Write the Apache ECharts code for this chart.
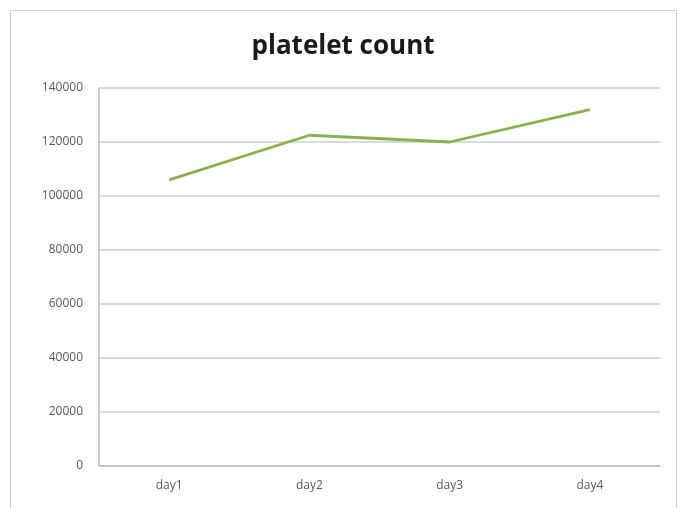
<!DOCTYPE html>
<html>
<head>
<meta charset="utf-8">
<script src="https://cdn.jsdelivr.net/npm/echarts@6/dist/echarts.min.js"></script>
<style>
  html, body { margin: 0; padding: 0; background: #fff; }
  #frame { position: absolute; left: 10px; top: 10px; width: 667px; height: 510px; border: 1px solid #d0d0d0; box-sizing: border-box; }
  #chart { position: absolute; left: 0; top: 0; width: 686px; height: 508px; }
</style>
</head>
<body>
<div id="frame"></div>
<div id="chart"></div>
<script>
// Platelet count over four days
const days = ['day1', 'day2', 'day3', 'day4'];
const plateletCount = [106000, 122500, 120000, 132000];
const yTicks = { min: 0, max: 140000, step: 20000 };

const chart = echarts.init(document.getElementById('chart'));
chart.setOption({
  animation: false,
  title: {
    text: 'platelet count',
    left: 'center',
    top: 29,
    textStyle: { fontFamily: 'Open Sans', fontWeight: 'bold', fontSize: 26, color: '#1a1a1a' }
  },
  grid: { left: 99, right: 26, top: 88, bottom: 42 },
  xAxis: {
    type: 'category',
    data: days,
    boundaryGap: true,
    axisLine: { lineStyle: { color: '#bfbfbf', width: 1.5 } },
    axisTick: { show: false },
    axisLabel: { color: '#595959', fontSize: 12, fontFamily: 'Open Sans', margin: 14 }
  },
  yAxis: {
    type: 'value',
    min: yTicks.min,
    max: yTicks.max,
    interval: yTicks.step,
    axisLine: { show: true, lineStyle: { color: '#bfbfbf', width: 1.5 } },
    axisTick: { show: false },
    axisLabel: { color: '#595959', fontSize: 12, fontFamily: 'Open Sans', margin: 16, formatter: v => String(v) },
    splitLine: { lineStyle: { color: '#cfcfcf', width: 1.5 } }
  },
  series: [{
    type: 'line',
    data: plateletCount,
    showSymbol: false,
    lineStyle: { color: '#8bb14c', width: 2.8 },
    itemStyle: { color: '#8bb14c' }
  }]
});
</script>
</body>
</html>
